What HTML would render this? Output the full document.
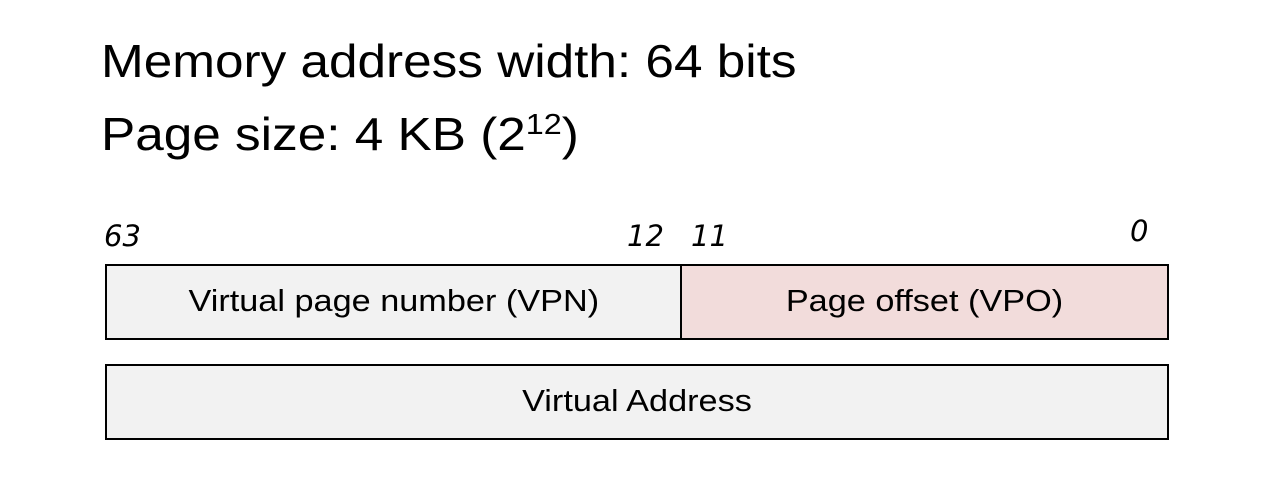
<!DOCTYPE html>
<html><head><style>
body{margin:0;width:1272px;height:480px;background:#fff;position:relative;font-family:"Liberation Sans",sans-serif;overflow:hidden}
.t{position:absolute;left:101px;font-size:46px;color:#000;line-height:1;transform:scaleX(1.115);transform-origin:left;white-space:nowrap}
.n{position:absolute;font-style:italic;font-size:29px;line-height:1;font-family:"DejaVu Sans","Liberation Sans",sans-serif}
.b{position:absolute;box-sizing:border-box;border:2px solid #000;display:flex;align-items:center;justify-content:center;font-size:31px}
.b span{display:inline-block;transform:scaleX(1.105);margin-top:-3px}
</style></head><body>
<div class="t" style="top:38px">Memory address width: 64 bits</div>
<div class="t" style="top:111px">Page size: 4 KB (2<sup style="font-size:29px;vertical-align:16px;line-height:0">12</sup>)</div>
<div class="n" style="left:104px;top:222px">63</div>
<div class="n" style="left:627px;top:222px">12</div>
<div class="n" style="left:691px;top:222px">11</div>
<div class="n" style="left:1130px;top:217px">0</div>
<div class="b" style="left:105px;top:264px;width:577px;height:76px;background:#f2f2f2"><span>Virtual page number (VPN)</span></div>
<div class="b" style="left:680px;top:264px;width:489px;height:76px;background:#f2dcdb"><span>Page offset (VPO)</span></div>
<div class="b" style="left:105px;top:364px;width:1064px;height:76px;background:#f2f2f2"><span>Virtual Address</span></div>
</body></html>
